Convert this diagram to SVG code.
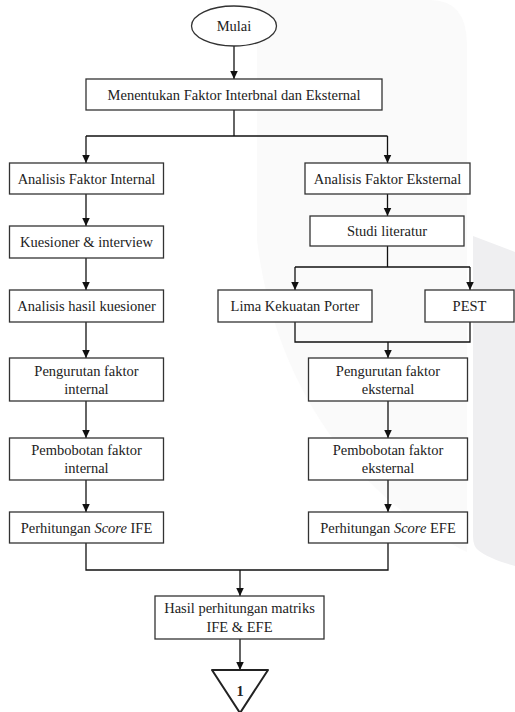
<svg xmlns="http://www.w3.org/2000/svg" width="515" height="712" viewBox="0 0 515 712">
<style>
.box{fill:#fff;stroke:#333;stroke-width:1.3}
.t{font-family:"Liberation Serif","Tinos","DejaVu Serif","Noto Serif",serif;font-size:14.5px;fill:#222;text-anchor:middle}
.c{fill:none;stroke:#111;stroke-width:1.3}
.a{marker-end:url(#arr)}
</style>
<defs>
<marker id="arr" markerUnits="userSpaceOnUse" markerWidth="10" markerHeight="10" refX="8.5" refY="4" orient="auto">
<path d="M0,0 L8.5,4 L0,8 Z" fill="#111"/>
</marker>
</defs>
<rect width="515" height="712" fill="#fff"/>
<g id="watermark">
<path d="M257,0 H430 Q467,0 467,45 V552 C360,500 275,390 257,240 Z" fill="#fafafa"/>
<path d="M473,236 L515,252 V566 C500,562 485,556 478,550 Q473,546 473,536 Z" fill="#efeff1"/>
</g>
<g id="connectors">
<line class="c a" x1="234" y1="46" x2="234" y2="79"/>
<line class="c" x1="234" y1="110" x2="234" y2="136"/>
<line class="c" x1="86" y1="136" x2="387.5" y2="136"/>
<line class="c a" x1="86" y1="136" x2="86" y2="163"/>
<line class="c a" x1="387.5" y1="136" x2="387.5" y2="163"/>
<line class="c a" x1="86" y1="194" x2="86" y2="226"/>
<line class="c a" x1="86" y1="258" x2="86" y2="290"/>
<line class="c a" x1="86" y1="322" x2="86" y2="358"/>
<line class="c a" x1="86" y1="401" x2="86" y2="438"/>
<line class="c a" x1="86" y1="480" x2="86" y2="512"/>
<line class="c a" x1="387.5" y1="194" x2="387.5" y2="216"/>
<line class="c" x1="387.5" y1="246" x2="387.5" y2="267"/>
<line class="c" x1="295" y1="267" x2="470" y2="267"/>
<line class="c a" x1="295" y1="267" x2="295" y2="290"/>
<line class="c a" x1="470" y1="267" x2="470" y2="290"/>
<polyline class="c" points="295,322 295,342 470,342 470,322"/>
<line class="c a" x1="388" y1="342" x2="388" y2="358"/>
<line class="c a" x1="388" y1="401" x2="388" y2="438"/>
<line class="c a" x1="388" y1="480" x2="388" y2="512"/>
<polyline class="c" points="86,543 86,570 388,570 388,543"/>
<line class="c a" x1="240" y1="570" x2="240" y2="596"/>
<line class="c a" x1="240" y1="639" x2="240" y2="670"/>
</g>
<g id="mulai">
<ellipse cx="234" cy="26" rx="42.5" ry="20" class="box"/>
<text class="t" x="234" y="31">Mulai</text>
</g>
<g id="menentukan">
<rect class="box" x="86" y="79" width="296" height="31"/>
<text class="t" x="234" y="99.5">Menentukan Faktor Interbnal dan Eksternal</text>
</g>
<g id="analisis-internal">
<rect class="box" x="9.5" y="163" width="154" height="31"/>
<text class="t" x="86.5" y="183.5">Analisis Faktor Internal</text>
</g>
<g id="kuesioner">
<rect class="box" x="9.5" y="226" width="154" height="32"/>
<text class="t" x="86.5" y="247">Kuesioner &amp; interview</text>
</g>
<g id="analisis-hasil">
<rect class="box" x="9.5" y="290" width="154" height="32"/>
<text class="t" x="86.5" y="311">Analisis hasil kuesioner</text>
</g>
<g id="pengurutan-internal">
<rect class="box" x="9.5" y="358" width="154" height="43"/>
<text class="t" x="86.5" y="376">Pengurutan faktor</text>
<text class="t" x="86.5" y="393.5">internal</text>
</g>
<g id="pembobotan-internal">
<rect class="box" x="9.5" y="438" width="154" height="42"/>
<text class="t" x="86.5" y="455">Pembobotan faktor</text>
<text class="t" x="86.5" y="472.5">internal</text>
</g>
<g id="score-ife">
<rect class="box" x="9.5" y="512" width="154" height="31"/>
<text class="t" x="86.5" y="532.5">Perhitungan <tspan font-style="italic">Score</tspan> IFE</text>
</g>
<g id="analisis-eksternal">
<rect class="box" x="305" y="163" width="165" height="31"/>
<text class="t" x="387.5" y="183.5">Analisis Faktor Eksternal</text>
</g>
<g id="studi">
<rect class="box" x="310" y="216" width="154" height="30"/>
<text class="t" x="387" y="236">Studi literatur</text>
</g>
<g id="porter">
<rect class="box" x="218" y="290" width="154" height="32"/>
<text class="t" x="295" y="311">Lima Kekuatan Porter</text>
</g>
<g id="pest">
<rect class="box" x="425" y="290" width="89" height="32"/>
<text class="t" x="469.5" y="311">PEST</text>
</g>
<g id="pengurutan-eksternal">
<rect class="box" x="308.5" y="358" width="159" height="43"/>
<text class="t" x="388" y="376">Pengurutan faktor</text>
<text class="t" x="388" y="393.5">eksternal</text>
</g>
<g id="pembobotan-eksternal">
<rect class="box" x="308.5" y="438" width="159" height="42"/>
<text class="t" x="388" y="455">Pembobotan faktor</text>
<text class="t" x="388" y="472.5">eksternal</text>
</g>
<g id="score-efe">
<rect class="box" x="308.5" y="512" width="159" height="31"/>
<text class="t" x="388" y="532.5">Perhitungan <tspan font-style="italic">Score</tspan> EFE</text>
</g>
<g id="hasil">
<rect class="box" x="155" y="596" width="169" height="43"/>
<text class="t" x="239.5" y="613">Hasil perhitungan matriks</text>
<text class="t" x="239.5" y="631.5">IFE &amp; EFE</text>
</g>
<g id="offpage">
<polygon points="212,670 268,670 240,713" fill="#fff" stroke="#222" stroke-width="2" stroke-linejoin="round"/>
<text class="t" x="240" y="696" font-weight="bold">1</text>
</g>
</svg>
